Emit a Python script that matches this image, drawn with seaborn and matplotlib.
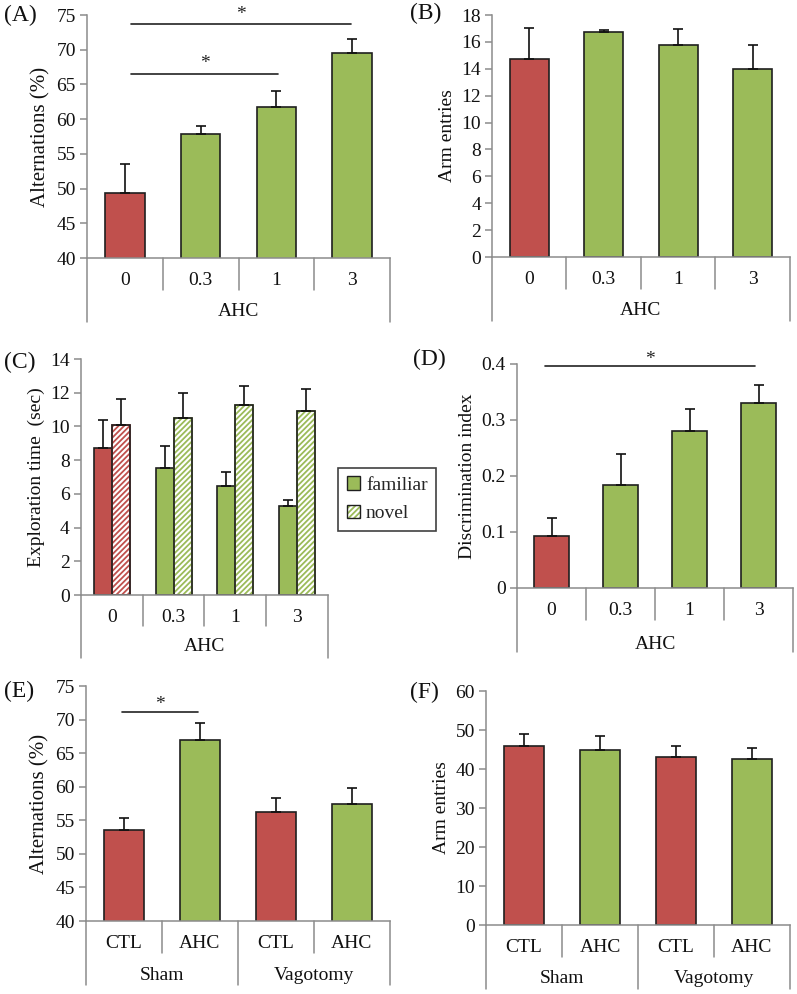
import matplotlib
matplotlib.use("Agg", force=True)
import matplotlib.pyplot as plt
import matplotlib.transforms as mtransforms
from matplotlib.patches import Patch, Rectangle
import pandas as pd
import seaborn as sns

RED = "#C0504D"
GREEN = "#9BBB59"
EDGE = "#1f1f1f"
AXIS_GRAY = "#8c8c8c"

doses = ["0", "0.3", "1", "3"]
alt_mean = [49.4, 57.8, 61.8, 69.6]
alt_sem = [4.1, 1.2, 2.2, 2.0]
arm_mean = [14.75, 16.75, 15.8, 14.0]
arm_sem = [2.3, 0.15, 1.15, 1.8]
familiar_mean = [8.7, 7.55, 6.45, 5.3]
familiar_sem = [1.7, 1.3, 0.85, 0.35]
novel_mean = [10.1, 10.5, 11.3, 10.9]
novel_sem = [1.5, 1.5, 1.1, 1.35]
di_mean = [0.092, 0.183, 0.28, 0.33]
di_sem = [0.032, 0.057, 0.04, 0.032]

treat = ["CTL", "AHC", "CTL", "AHC"]
surgery = ["Sham", "Sham", "Vagotomy", "Vagotomy"]
vag_alt_mean = [53.6, 67.0, 56.2, 57.5]
vag_alt_sem = [1.7, 2.5, 2.2, 2.3]
vag_arm_mean = [45.8, 44.8, 43.2, 42.6]
vag_arm_sem = [3.2, 3.7, 2.8, 2.9]

dose_colors = [RED, GREEN, GREEN, GREEN]
vag_colors = [RED, GREEN, RED, GREEN]

sns.set_theme(style="white")
plt.rcParams["font.family"] = ["Liberation Serif", "DejaVu Serif"]
plt.rcParams["hatch.linewidth"] = 1.3
TICK_FS = 14


def style_axis(ax, ylim, yticks, ylabel, ytick_fmt=None, label_fs=TICK_FS):
    ax.set_xlim(-0.5, 3.5)
    ax.set_ylim(*ylim)
    ax.set_yticks(yticks)
    if ytick_fmt:
        ax.set_yticklabels([ytick_fmt(v) for v in yticks])
    for side in ["top", "right"]:
        ax.spines[side].set_visible(False)
    for side in ["left", "bottom"]:
        ax.spines[side].set_color(AXIS_GRAY)
        ax.spines[side].set_linewidth(1.1)
    ax.tick_params(axis="y", left=True, length=5, color=AXIS_GRAY, width=1.1,
                   labelsize=TICK_FS, pad=3, labelcolor="#111")
    ax.tick_params(axis="x", bottom=False, length=0, labelsize=TICK_FS, pad=10, labelcolor="#111")
    ax.set_ylabel(ylabel, fontsize=label_fs, color="#111", labelpad=4)
    ax.set_xlabel("")


def category_frame(ax, inner, full, outer_depth):
    trans = mtransforms.blended_transform_factory(ax.transData, ax.transAxes)
    for x in [-0.5, 0.5, 1.5, 2.5, 3.5]:
        depth = outer_depth if x in full else inner
        ax.plot([x, x], [0, depth], transform=trans, color=AXIS_GRAY, lw=1.1, clip_on=False)


def add_errors(ax, patches, sems):
    xs = [p.get_x() + p.get_width() / 2 for p in patches]
    ys = [p.get_height() + p.get_y() for p in patches]
    ax.errorbar(xs, ys, yerr=[[0] * len(sems), sems], fmt="none", ecolor="#111",
                elinewidth=1.2, capsize=3.5, capthick=1.2, zorder=5)


def sig_bar(ax, x0, x1, y, star_y):
    ax.plot([x0, x1], [y, y], color="#222", lw=1.2, clip_on=False)
    ax.text((x0 + x1) / 2, star_y, "*", ha="center", va="center", fontsize=14, color="#222")


def simple_bars(ax, cats, means, sems, colors):
    df = pd.DataFrame({"cat": cats, "val": means})
    sns.barplot(data=df, x="cat", y="val", hue="cat", palette=colors, order=cats,
                hue_order=cats, width=0.52, legend=False, edgecolor=EDGE, linewidth=1.2,
                saturation=1, ax=ax)
    add_errors(ax, list(ax.patches), sems)


def group_label(ax, x, y, text):
    trans = mtransforms.blended_transform_factory(ax.transData, ax.transAxes)
    ax.text(x, y, text, transform=trans, ha="center", va="center", fontsize=TICK_FS, color="#111")


fig = plt.figure(figsize=(7.97, 9.94), dpi=100)

# (A)
axA = fig.add_axes([0.1092, 0.7404, 0.3802, 0.2445])
simple_bars(axA, doses, alt_mean, alt_sem, dose_colors)
style_axis(axA, (40, 75), range(40, 76, 5), "Alternations (%)", label_fs=15)
category_frame(axA, -0.132, [-0.5, 3.5], -0.263)
group_label(axA, 1.5, -0.222, "AHC")
sig_bar(axA, 0.08, 2.98, 73.7, 75.1)
sig_bar(axA, 0.08, 2.02, 66.5, 68.0)

# (B)
axB = fig.add_axes([0.6173, 0.7414, 0.3739, 0.2435])
simple_bars(axB, doses, arm_mean, arm_sem, dose_colors)
style_axis(axB, (0, 18), range(0, 19, 2), "Arm entries")
category_frame(axB, -0.132, [-0.5, 3.5], -0.263)
group_label(axB, 1.5, -0.222, "AHC")

# (C)
axC = fig.add_axes([0.1016, 0.4014, 0.3099, 0.2374])
dfC = pd.DataFrame({
    "dose": doses * 2,
    "time": familiar_mean + novel_mean,
    "object": ["familiar"] * 4 + ["novel"] * 4,
})
sns.barplot(data=dfC, x="dose", y="time", hue="object", order=doses,
            hue_order=["familiar", "novel"], width=0.58, gap=0, legend=False,
            palette=[GREEN, GREEN], edgecolor=EDGE, linewidth=1.2, saturation=1, ax=axC)
fam_bars = list(axC.containers[0])
nov_bars = list(axC.containers[1])
for bar, col in zip(fam_bars, dose_colors):
    bar.set_facecolor(col)
for bar, col in zip(nov_bars, dose_colors):
    bar.set_facecolor("white")
    bar.set_edgecolor(col)
    bar.set_hatch("//////")
    axC.add_patch(Rectangle((bar.get_x(), bar.get_y()), bar.get_width(), bar.get_height(),
                            fill=False, edgecolor=EDGE, lw=1.2, zorder=bar.get_zorder() + 0.1))
add_errors(axC, fam_bars, familiar_sem)
add_errors(axC, nov_bars, novel_sem)
style_axis(axC, (0, 14), range(0, 15, 2), "Exploration time  (sec)")
category_frame(axC, -0.131, [-0.5, 3.5], -0.267)
group_label(axC, 1.5, -0.22, "AHC")
h_fam = Patch(facecolor=GREEN, edgecolor=EDGE, lw=1)
h_nov = (Patch(facecolor="white", edgecolor=GREEN, hatch="//////", lw=0),
         Patch(facecolor="none", edgecolor=EDGE, lw=1))
leg = axC.legend([h_fam, h_nov], ["familiar", "novel"], loc="upper left",
                 bbox_to_anchor=(1.04, 0.54), frameon=True, fancybox=False,
                 fontsize=TICK_FS, handlelength=0.7, handleheight=0.7,
                 handletextpad=0.3, borderpad=0.45, labelspacing=0.55, borderaxespad=0)
leg.get_frame().set_edgecolor("#111")
leg.get_frame().set_linewidth(1.2)

# (D)
axD = fig.add_axes([0.6487, 0.4085, 0.3463, 0.2254])
simple_bars(axD, doses, di_mean, di_sem, dose_colors)
style_axis(axD, (0, 0.4), [0, 0.1, 0.2, 0.3, 0.4], "Discrimination index",
           ytick_fmt=lambda v: "0" if v == 0 else f"{v:.1f}")
category_frame(axD, -0.143, [-0.5, 3.5], -0.286)
group_label(axD, 1.5, -0.254, "AHC")
sig_bar(axD, -0.1, 2.95, 0.396, 0.407)

# (E)
axE = fig.add_axes([0.1079, 0.0734, 0.3814, 0.2364])
vag_keys = [f"{s} {t}" for s, t in zip(surgery, treat)]
simple_bars(axE, vag_keys, vag_alt_mean, vag_alt_sem, vag_colors)
style_axis(axE, (40, 75), range(40, 76, 5), "Alternations (%)", label_fs=15)
axE.set_xticks(range(4))
axE.set_xticklabels(treat)
category_frame(axE, -0.136, [-0.5, 1.5, 3.5], -0.272)
group_label(axE, 0.5, -0.23, "Sham")
group_label(axE, 2.5, -0.23, "Vagotomy")
sig_bar(axE, -0.02, 0.97, 71.1, 72.2)

# (F)
axF = fig.add_axes([0.6098, 0.0694, 0.3814, 0.2354])
simple_bars(axF, vag_keys, vag_arm_mean, vag_arm_sem, vag_colors)
style_axis(axF, (0, 60), range(0, 61, 10), "Arm entries")
axF.set_xticks(range(4))
axF.set_xticklabels(treat)
category_frame(axF, -0.136, [-0.5, 1.5, 3.5], -0.272)
group_label(axF, 0.5, -0.23, "Sham")
group_label(axF, 2.5, -0.23, "Vagotomy")

# panel letters
for label, x, y in [("(A)", 0.005, 0.984), ("(B)", 0.515, 0.986), ("(C)", 0.005, 0.635),
                    ("(D)", 0.518, 0.638), ("(E)", 0.005, 0.304), ("(F)", 0.515, 0.303)]:
    fig.text(x, y, label, fontsize=17, ha="left", va="center", color="#111")

fig.savefig("out.png", dpi=100)
